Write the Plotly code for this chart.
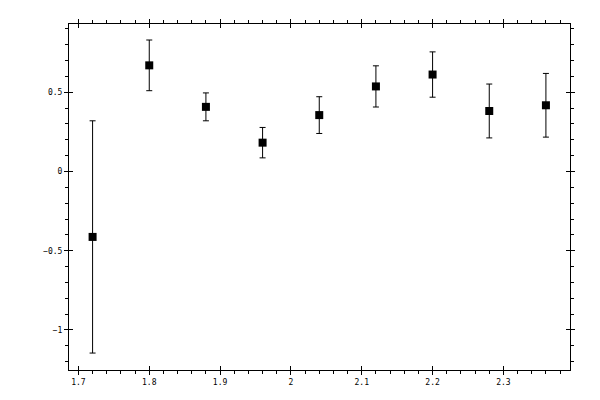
import plotly.graph_objects as go

x_vals = [1.72, 1.80, 1.88, 1.96, 2.04, 2.12, 2.20, 2.28, 2.36]
y_vals = [-0.413, 0.670, 0.408, 0.182, 0.356, 0.537, 0.612, 0.382, 0.418]
y_err = [0.733, 0.160, 0.088, 0.096, 0.116, 0.130, 0.143, 0.170, 0.201]

x_range = [1.6867, 2.394]
y_range = [-1.253, 0.931]

fig = go.Figure()

fig.add_trace(go.Scatter(
    x=x_vals, y=y_vals,
    mode="markers",
    marker=dict(symbol="square", size=8, color="black"),
    error_y=dict(type="data", array=y_err, visible=True,
                 color="black", thickness=1, width=3),
    showlegend=False,
))

# same points on the overlay axes so the inner tick marks get drawn
fig.add_trace(go.Scatter(
    x=x_vals, y=y_vals, xaxis="x2", yaxis="y2",
    mode="markers", marker=dict(opacity=0), hoverinfo="skip",
    showlegend=False,
))

font = dict(family="DejaVu Sans Mono", size=8, color="black")

# page body has an 8px margin, so the margins here are shifted by that
fig.update_layout(
    width=600, height=400,
    margin=dict(l=61, r=38, t=11, b=38),
    paper_bgcolor="white", plot_bgcolor="white",
    font=font,
    xaxis=dict(range=x_range, dtick=0.1, tick0=1.7,
               showgrid=False, zeroline=False,
               showline=True, linecolor="black", linewidth=1,
               mirror="ticks", ticks="outside", ticklen=4,
               tickcolor="black", tickfont=font,
               minor=dict(dtick=0.02, ticks="outside", ticklen=3,
                          tickcolor="black", showgrid=False)),
    yaxis=dict(range=y_range, dtick=0.5, tick0=0,
               showgrid=False, zeroline=False,
               showline=True, linecolor="black", linewidth=1,
               mirror="ticks", ticks="outside", ticklen=4,
               tickcolor="black", tickfont=font,
               minor=dict(dtick=0.1, ticks="outside", ticklen=3,
                          tickcolor="black", showgrid=False)),
    xaxis2=dict(range=x_range, dtick=0.1, tick0=1.7, overlaying="x",
                showgrid=False, zeroline=False, showticklabels=False,
                mirror="ticks", ticks="inside", ticklen=4,
                tickcolor="black"),
    yaxis2=dict(range=y_range, dtick=0.5, tick0=0, overlaying="y",
                showgrid=False, zeroline=False, showticklabels=False,
                mirror="ticks", ticks="inside", ticklen=4,
                tickcolor="black"),
)

fig.write_html("out.html")
